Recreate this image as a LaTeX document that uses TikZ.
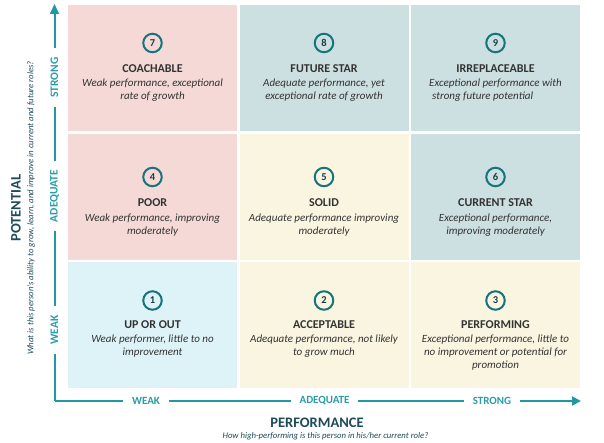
\documentclass[tikz,border=0pt]{standalone}
\usepackage{fontspec}
\setmainfont{Carlito}
\usetikzlibrary{arrows.meta}
\definecolor{cpink}{HTML}{F4D9D6}
\definecolor{cgray}{HTML}{CCDFE1}
\definecolor{ccream}{HTML}{FAF5E0}
\definecolor{cblue}{HTML}{DDF3F8}
\definecolor{axisteal}{HTML}{2199A3}
\definecolor{labteal}{HTML}{2A9DA8}
\definecolor{ringteal}{HTML}{17747A}
\definecolor{numdark}{HTML}{1D3B47}
\definecolor{headdark}{HTML}{1D4B5A}
\definecolor{txt}{HTML}{333333}
\tikzset{
  cellbox/.style={draw=none, inner sep=0pt, minimum width=169pt, minimum height=126pt, anchor=north west},
  ring/.style={circle, draw=ringteal, line width=2pt, minimum size=18.5pt, inner sep=0pt, font=\fontsize{10.5}{11}\selectfont\bfseries, text=numdark},
  ctitle/.style={font=\fontsize{12}{13}\selectfont\bfseries, text=txt, inner sep=0pt},
  cdesc/.style={font=\fontsize{11}{13}\selectfont\itshape, text=txt, inner sep=0pt, align=center, anchor=north},
  axlab/.style={font=\fontsize{11}{12}\selectfont\bfseries, text=labteal, fill=white, inner ysep=2pt, inner xsep=9pt},
  vaxlab/.style={axlab, rotate=90, font=\fontsize{11.5}{12}\selectfont\bfseries},
  axline/.style={draw=axisteal, line width=2pt},
  bigtitle/.style={font=\fontsize{14.5}{15}\selectfont\bfseries, text=headdark, inner sep=0pt},
  subtitle/.style={font=\fontsize{8.7}{10}\selectfont\itshape, text=headdark, inner sep=0pt}
}
\begin{document}
\begin{tikzpicture}[x=1pt,y=-1pt]
\useasboundingbox[fill=white] (0,0) rectangle (604,443);
% cells
\node[cellbox, fill=cpink]  (c7) at (68,5) {};
\node[cellbox, fill=cgray]  (c8) at (239.5,5) {};
\node[cellbox, fill=cgray]  (c9) at (411,5) {};
\node[cellbox, fill=cpink]  (c4) at (68,133.5) {};
\node[cellbox, fill=ccream] (c5) at (239.5,133.5) {};
\node[cellbox, fill=cgray]  (c6) at (411,133.5) {};
\node[cellbox, fill=cblue]  (c1) at (68,261.5) {};
\node[cellbox, fill=ccream] (c2) at (239.5,261.5) {};
\node[cellbox, fill=ccream] (c3) at (411,261.5) {};
% row 1
\node[ring] (n7) at (152.5,43) {7};
\node[ctitle] (t7) at (152.5,69) {COACHABLE};
\node[cdesc] (d7) at (152.5,78.5) {Weak performance, exceptional\\rate of growth};
\node[ring] (n8) at (324,43) {8};
\node[ctitle] (t8) at (324,69) {FUTURE STAR};
\node[cdesc] (d8) at (324,78.5) {Adequate performance, yet\\exceptional rate of growth};
\node[ring] (n9) at (495.5,43) {9};
\node[ctitle] (t9) at (495.5,69) {IRREPLACEABLE};
\node[cdesc, align=left] (d9) at (495.5,78.5) {Exceptional performance with\\\hspace{3pt}strong future potential};
% row 2
\node[ring] (n4) at (152.5,177) {4};
\node[ctitle] (t4) at (152.5,203) {POOR};
\node[cdesc] (d4) at (152.5,213.5) {Weak performance, improving\\moderately};
\node[ring] (n5) at (324,177) {5};
\node[ctitle] (t5) at (324,203) {SOLID};
\node[cdesc] (d5) at (324,213.5) {Adequate performance improving\\moderately};
\node[ring] (n6) at (495.5,177) {6};
\node[ctitle] (t6) at (495.5,203) {CURRENT STAR};
\node[cdesc] (d6) at (495.5,213.5) {Exceptional performance,\\improving moderately};
% row 3
\node[ring] (n1) at (152.5,300.5) {1};
\node[ctitle] (t1) at (152.5,325) {UP OR OUT};
\node[cdesc] (d1) at (152.5,334.5) {Weak performer, little to no\\improvement};
\node[ring] (n2) at (324,300.5) {2};
\node[ctitle] (t2) at (324,325) {ACCEPTABLE};
\node[cdesc] (d2) at (324,334.5) {Adequate performance, not likely\\to grow much};
\node[ring] (n3) at (495.5,300.5) {3};
\node[ctitle] (t3) at (495.5,325) {PERFORMING};
\node[cdesc] (d3) at (495.5,334.5) {Exceptional performance, little to\\no improvement or potential for\\promotion};
% axes
\coordinate (top) at (54.5,4);
\coordinate (corner) at (54.5,401);
\coordinate (right) at (581,401);
\draw[axline, -{Triangle[length=10pt,width=9pt]}] (corner) -- (top);
\draw[axline, -{Triangle[length=9pt,width=9pt]}] (corner) -- (right);
\node[vaxlab] (vs) at (54.5,77.5) {STRONG};
\node[vaxlab] (va) at (54.5,196) {ADEQUATE};
\node[vaxlab] (vw) at (54.5,330) {WEAK};
\node[axlab] (hw) at (146,401) {WEAK};
\node[axlab] (ha) at (324.5,401) {ADEQUATE};
\node[axlab] (hs) at (492,401) {STRONG};
% titles
\node[bigtitle, rotate=90] (pot) at (16,208) {POTENTIAL};
\node[subtitle, rotate=90] (pots) at (31,208) {What is this person's ability to grow, learn, and improve in current and future roles?};
\node[bigtitle] (perf) at (317,422.5) {PERFORMANCE};
\node[subtitle] (perfs) at (325.5,436.5) {How high-performing is this person in his/her current role?};
\end{tikzpicture}
\end{document}
